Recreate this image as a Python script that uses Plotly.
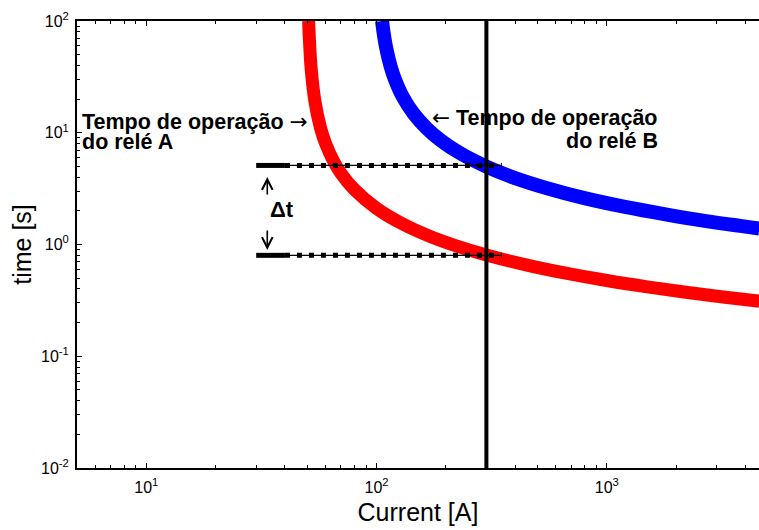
import numpy as np
import plotly.graph_objects as go

# Relay A (red) operating curve
relay_a_current = [50.7, 51, 52, 54, 57, 60, 65, 70, 80, 100, 130, 170, 220, 300, 450, 700, 1000, 1500, 2200, 3200, 4600]
relay_a_time = [100, 74, 37.5, 19.1, 11.2, 8.05, 5.59, 4.35, 3.11, 2.106, 1.524, 1.186, 0.978, 0.806, 0.654, 0.542, 0.476, 0.418, 0.374, 0.339, 0.311]

# Relay B (blue) operating curve
relay_b_current = [105.7, 107, 110, 115, 120, 130, 145, 165, 190, 230, 300, 400, 550, 800, 1200, 1800, 2700, 3800, 4600]
relay_b_time = [100, 81.7, 58.0, 39.5, 30.3, 21.0, 14.8, 10.99, 8.56, 6.58, 4.98, 3.93, 3.19, 2.60, 2.17, 1.86, 1.62, 1.466, 1.39]

# Fault current (vertical line) and the two operating times
fault_current = 300
time_range = [0.01, 100]
t_low = 0.8
t_high = 5.1
seg_solid = [30, 40]
seg_dotted = [40, 350]

# Tick labels
x_tickvals = [10, 100, 1000]
x_ticktext = ["10<sup>1</sup>", "10<sup>2</sup>", "10<sup>3</sup>"]
y_tickvals = [0.01, 0.1, 1, 10, 100]
y_ticktext = ["10<sup>-2</sup>", "10<sup>-1</sup>", "10<sup>0</sup>", "10<sup>1</sup>", "10<sup>2</sup>"]

FONT = "Arial, Liberation Sans, sans-serif"

fig = go.Figure()

fig.add_trace(go.Scatter(x=relay_a_current, y=relay_a_time, mode="lines",
                         line=dict(color="#ff0000", width=13, shape="spline")))
fig.add_trace(go.Scatter(x=relay_b_current, y=relay_b_time, mode="lines",
                         line=dict(color="#0000ff", width=14, shape="spline")))
fig.add_trace(go.Scatter(x=[fault_current, fault_current], y=time_range, mode="lines",
                         line=dict(color="black", width=4)))

for t in (t_low, t_high):
    fig.add_trace(go.Scatter(x=seg_dotted, y=[t, t], mode="lines",
                             line=dict(color="black", width=1.3)))
    fig.add_trace(go.Scatter(x=seg_dotted, y=[t, t], mode="lines",
                             line=dict(color="black", width=5, dash="5px,7px")))
    fig.add_trace(go.Scatter(x=seg_solid, y=[t, t], mode="lines",
                             line=dict(color="black", width=5)))

axis_common = dict(
    type="log", showgrid=False, zeroline=False,
    showline=True, linecolor="black", linewidth=2,
    ticks="inside", ticklen=5, tickwidth=1, tickcolor="black",
    tickfont=dict(family=FONT, size=16, color="black"),
    minor=dict(ticks="inside", ticklen=3, tickwidth=1, tickcolor="black", dtick="D1"),
)

fig.update_xaxes(**axis_common, mirror="ticks",
                 tickmode="array", tickvals=x_tickvals, ticktext=x_ticktext,
                 ticklabelstandoff=4,
                 range=[np.log10(5), 3.661],
                 title=dict(text="Current [A]", font=dict(family=FONT, size=25, color="black"), standoff=8))
fig.update_yaxes(**axis_common, mirror=False,
                 tickmode="array", tickvals=y_tickvals, ticktext=y_ticktext,
                 ticklabelstandoff=3,
                 range=[-2, 2],
                 title=dict(text="time [s]", font=dict(family=FONT, size=25, color="black"), standoff=2))


def py(px):
    """pixel row -> paper fraction (plot area spans rows 21..468)"""
    return 1 - (px - 21) / 447


ARROW = "<span style='font-family:DejaVu Sans; font-weight:normal'>{}</span>"
ann_font = dict(family=FONT, size=21.5, color="black")
label_a = ["<b>Tempo de operação </b>" + ARROW.format("→"), "<b>do relé A</b>"]
label_b = [ARROW.format("←") + "<b> Tempo de operação</b>", "<b>do relé B</b>"]
for txt, row in zip(label_a, [121, 142]):
    fig.add_annotation(xref="paper", yref="paper", x=0.004, y=py(row), xanchor="left", yanchor="middle",
                       align="left", showarrow=False, font=ann_font, text=txt)
for txt, row in zip(label_b, [117, 141]):
    fig.add_annotation(xref="paper", yref="paper", x=0.855, y=py(row), xanchor="right", yanchor="middle",
                       align="right", showarrow=False, font=ann_font, text=txt)
fig.add_annotation(xref="paper", yref="paper", x=0.280, y=py(210), showarrow=False,
                   font=dict(family=FONT, size=22, color="black"), text="<b>Δt</b>")
# up / down arrows around Δt
fig.add_annotation(xref="paper", yref="paper", x=0.279, y=py(177), ax=0, ay=19,
                   showarrow=True, arrowhead=5, arrowsize=1.3, arrowwidth=1.6, arrowcolor="black", text="")
fig.add_annotation(xref="paper", yref="paper", x=0.279, y=py(250), ax=0, ay=-21,
                   showarrow=True, arrowhead=5, arrowsize=1.3, arrowwidth=1.6, arrowcolor="black", text="")

fig.update_layout(
    width=759, height=530,
    margin=dict(l=77, r=0, t=21, b=62),
    paper_bgcolor="white", plot_bgcolor="white",
    showlegend=False,
)

fig.write_html("out.html")
